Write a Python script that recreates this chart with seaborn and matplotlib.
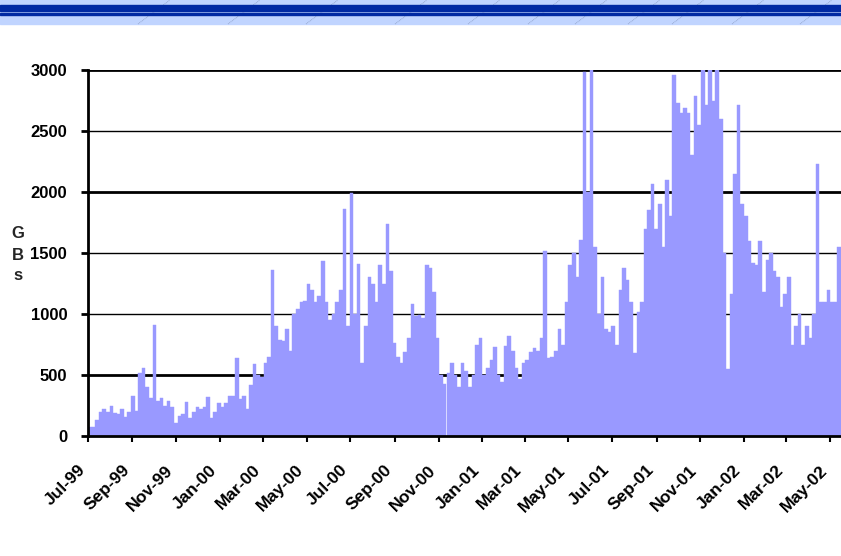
import matplotlib.pyplot as plt
import seaborn as sns
import pandas as pd
import numpy as np
from matplotlib.patches import Rectangle
from matplotlib.lines import Line2D

start_date = "1999-07-01"
bin_days = 5

# GBs per 5-day period
gbs_1999 = [70, 70, 130, 200, 220, 200, 250, 190, 180, 220, 155, 200, 330, 205, 520, 560,
            400, 310, 910, 285, 310, 250, 290, 240, 110, 165, 180, 280, 150, 200, 240, 220,
            240, 320, 150, 200, 270]
gbs_2000 = [235, 270, 330, 330, 640, 300, 330, 220, 420, 590, 500, 480, 600, 650, 1360, 900,
            790, 780, 880, 700, 1000, 1040, 1100, 1110, 1250, 1200, 1100, 1150, 1435, 1100,
            950, 1000, 1100, 1200, 1860, 900, 1990, 1000, 1410, 600, 900, 1300, 1250, 1100,
            1400, 1250, 1740, 1350, 760, 650, 600, 690, 800, 1080, 980, 990, 970, 1400, 1375,
            1180, 800, 500, 430, 520, 600, 500, 400, 600, 530, 400, 500, 750, 800]
gbs_2001 = [500, 560, 620, 730, 500, 440, 740, 820, 700, 560,
            470, 600, 620, 690, 720, 700, 800, 1520, 640, 650,
            700, 880, 750, 1100, 1400, 1500, 1300, 1610, 2980, 2000,
            3000, 1550, 1000, 1300, 880, 850, 900, 750, 1200, 1380,
            1280, 1100, 680, 1020, 1100, 1700, 1850, 2065, 1700, 1900,
            1550, 2100, 1800, 2960, 2730, 2650, 2690, 2650, 2300, 2790,
            2550, 3000, 2715, 3000, 2750, 3000, 2600, 1500, 550, 1165,
            2150, 2710, 1900]
gbs_2002 = [1800, 1600, 1420, 1400, 1600, 1180, 1440, 1500, 1350, 1300,
            1060, 1165, 1300, 750, 900, 1000, 750, 900, 800, 1000,
            2230, 1100, 1100, 1200, 1100, 1100, 1550]

tick_labels = ["Jul-99", "Sep-99", "Nov-99", "Jan-00", "Mar-00", "May-00", "Jul-00",
               "Sep-00", "Nov-00", "Jan-01", "Mar-01", "May-01", "Jul-01", "Sep-01",
               "Nov-01", "Jan-02", "Mar-02", "May-02"]

gbs = gbs_1999 + gbs_2000 + gbs_2001 + gbs_2002
df = pd.DataFrame({"gbs": gbs})
df["day"] = np.arange(len(df)) * bin_days + bin_days / 2

t0 = pd.Timestamp(start_date)
tick_pos = [(pd.to_datetime(t, format="%b-%y") - t0).days for t in tick_labels]

sns.set_style("white")
plt.rcParams["font.family"] = ["Liberation Sans", "DejaVu Sans"]
plt.rcParams["text.color"] = "black"
plt.rcParams["xtick.color"] = "black"
plt.rcParams["ytick.color"] = "black"

fig = plt.figure(figsize=(8.41, 5.56), dpi=100)
W, H = 841, 556

# header band
fig.patches.append(Rectangle((0, 1 - 24 / H), 1, 24 / H, transform=fig.transFigure,
                             color="#c0d4ff", zorder=0))
for x0 in [138, 228, 306, 395, 468, 528, 575, 628, 672, 732, 800]:
    fig.lines.append(Line2D([x0 / W, (x0 + 32) / W], [1 - 24 / H, 1], transform=fig.transFigure,
                            color="#8a9cc4", lw=0.6, ls=(0, (1, 1)), zorder=1))
fig.patches.append(Rectangle((0, 1 - 11 / H), 1, 6 / H, transform=fig.transFigure,
                             color="#0029a3", zorder=2))
fig.patches.append(Rectangle((0, 1 - 15 / H), 1, 2.2 / H, transform=fig.transFigure,
                             color="#0029a3", zorder=2))

ax = fig.add_axes([88 / W, 1 - 436 / H, 1 - 88 / W, 366 / H])

sns.barplot(data=df, x="day", y="gbs", native_scale=True, width=1, color="#9999ff",
            saturation=1, edgecolor="#9999ff", linewidth=0.3, errorbar=None, ax=ax, zorder=2)

for v in range(500, 3001, 500):
    ax.axhline(v, color="black", lw=2.0 if v in (500, 2000, 3000) else 1.0, zorder=1)

ax.set_ylim(0, 3000)
ax.set_xlim(0, (W - 88) / 0.717)
ax.set_yticks(range(0, 3001, 500))
ax.set_xticks(tick_pos)
ax.set_xticklabels(tick_labels, rotation=45, ha="right", fontsize=12.5, fontweight="bold")
ax.set_yticklabels([str(v) for v in range(0, 3001, 500)], fontsize=12, fontweight="bold")
ax.tick_params(axis="y", direction="out", length=5, width=2, pad=10, left=True)
ax.tick_params(axis="x", direction="out", length=4, width=1.5, pad=15, bottom=True)

for s in ["top", "right"]:
    ax.spines[s].set_visible(False)
for s in ["left", "bottom"]:
    ax.spines[s].set_color("black")
    ax.spines[s].set_linewidth(2)

ax.set_xlabel("")
ax.set_ylabel("G\nB\ns", rotation=0, fontsize=12, fontweight="bold", linespacing=1.5,
              va="center", ha="center")
ax.yaxis.set_label_coords(-70 / 753, (436 - 255) / 366)

fig.savefig("out.png", dpi=100)
